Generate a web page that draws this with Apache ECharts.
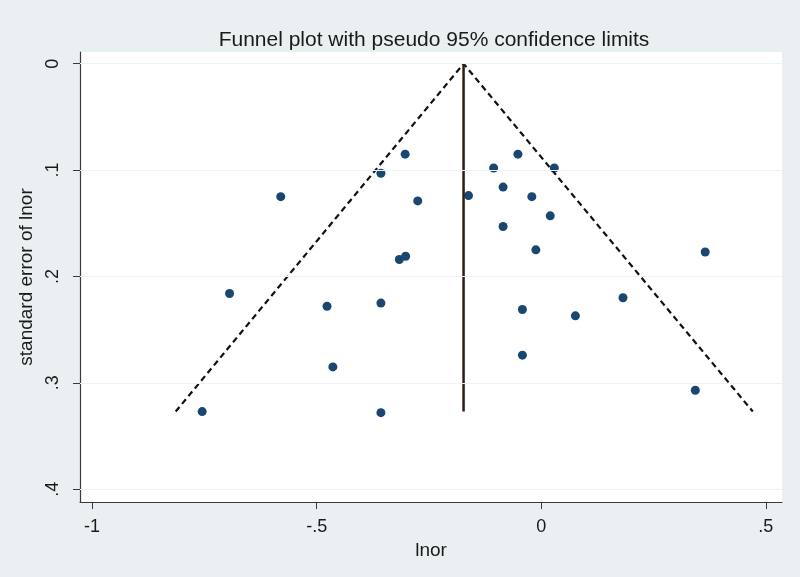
<!DOCTYPE html>
<html>
<head>
<meta charset="utf-8">
<script src="https://cdn.jsdelivr.net/npm/echarts@6/dist/echarts.min.js"></script>
<style>
html,body{margin:0;padding:0;background:#eaeff2;}
#chart{width:800px;height:577px;}
</style>
</head>
<body>
<div id="chart"></div>
<script>
// lnor (x) and standard error (y) of each study
var studyLnor = [-0.303,-0.357,-0.580,-0.275,-0.162,-0.316,-0.302,-0.694,-0.477,-0.357,-0.464,-0.755,-0.357,
                 -0.052,-0.106,0.029,-0.085,-0.021,0.020,-0.085,-0.012,0.365,0.182,-0.042,0.076,-0.042,0.343];
var studySE   = [0.085,0.103,0.125,0.129,0.124,0.184,0.181,0.216,0.228,0.225,0.285,0.327,0.328,
                 0.085,0.098,0.098,0.116,0.125,0.143,0.153,0.175,0.177,0.220,0.231,0.237,0.274,0.307];
// pseudo 95% confidence limits (left, apex, right) and pooled estimate line
var funnelX = [-0.814,-0.173,0.471];
var funnelY = [0.327,0,0.327];
var pooledX = [-0.173,-0.173];
var pooledY = [0,0.327];
var xTicks = [-1,-0.5,0,0.5];
var yTicks = [0,0.1,0.2,0.3,0.4];

function fmt(v){ if(v===0) return '0'; return String(v).replace('0.', '.'); }

var points = studyLnor.map(function(x,i){ return [x, studySE[i]]; });
var funnel = funnelX.map(function(x,i){ return [x, funnelY[i]]; });
var pooled = pooledX.map(function(x,i){ return [x, pooledY[i]]; });

var chart = echarts.init(document.getElementById('chart'), null, {renderer:'canvas'});
var font = 'Liberation Sans, Arial, sans-serif';
chart.setOption({
  backgroundColor:'#eaeff2',
  animation:false,
  title:{
    text:'Funnel plot with pseudo 95% confidence limits',
    left:429, top:25, textAlign:'center',
    textStyle:{fontFamily:font, fontSize:21, fontWeight:'normal', color:'#1a1a1a'}
  },
  grid:{left:80, right:18, top:52, bottom:75, show:true, backgroundColor:'#ffffff', borderWidth:0},
  xAxis:{
    type:'value', min:-1.027, max:0.536,
    name:'lnor', nameLocation:'middle', nameGap:36,
    nameTextStyle:{fontFamily:font, fontSize:19, color:'#1a1a1a'},
    axisLine:{show:true, onZero:false, lineStyle:{color:'#3a3a3a', width:1.2}},
    axisTick:{show:true, length:7, customValues:xTicks, lineStyle:{color:'#3a3a3a'}},
    axisLabel:{customValues:xTicks, formatter:fmt, margin:16, fontFamily:font, fontSize:18, color:'#1a1a1a'},
    splitLine:{show:false}
  },
  yAxis:{
    type:'value', inverse:true, min:-0.011, max:0.412,
    name:'standard error of lnor', nameLocation:'middle', nameGap:37,
    nameTextStyle:{fontFamily:font, fontSize:19, color:'#1a1a1a'},
    axisLine:{show:true, onZero:false, lineStyle:{color:'#3a3a3a', width:1.2}},
    axisTick:{show:true, length:7, customValues:yTicks, lineStyle:{color:'#3a3a3a'}},
    axisLabel:{customValues:yTicks, formatter:fmt, rotate:90, margin:18, fontFamily:font, fontSize:18, color:'#1a1a1a'},
    splitLine:{show:false}
  },
  series:[
    {
      type:'line', data:yTicks.map(function(){return null;}), silent:true, showSymbol:false,
      markLine:{silent:true, symbol:'none', label:{show:false},
        lineStyle:{color:'#edf2f5', width:1.2, type:'solid'},
        data:yTicks.map(function(v){return {yAxis:v};})}
    },
    {
      type:'line', data:funnel, showSymbol:false, silent:true,
      lineStyle:{color:'#111111', width:2.2, type:[6,4]}
    },
    {
      type:'line', data:pooled, showSymbol:false, silent:true,
      lineStyle:{color:'#2b1d16', width:2.5}
    },
    {
      type:'scatter', data:points, symbol:'circle', symbolSize:9,
      itemStyle:{color:'#1a476f', opacity:1}
    }
  ]
});
</script>
</body>
</html>
